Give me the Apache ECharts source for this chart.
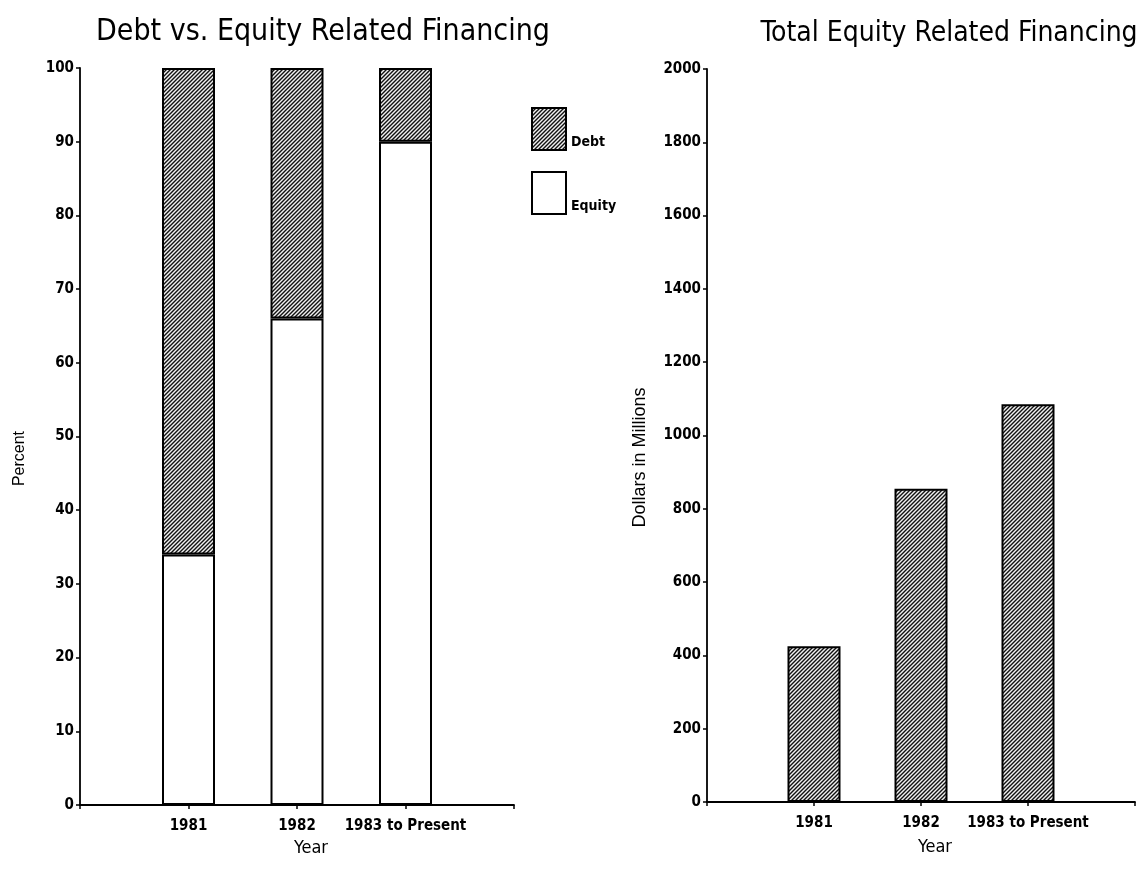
<!DOCTYPE html>
<html>
<head>
<meta charset="utf-8">
<script src="https://cdn.jsdelivr.net/npm/echarts@6/dist/echarts.min.js"></script>
<style>html,body{margin:0;padding:0;background:#fff;}#c{width:1144px;height:886px;}</style>
</head>
<body>
<div id="c"></div>
<script>
// ---- data ----
const years = ['1981', '1982', '1983 to Present'];
const equityPct = [34, 66, 90];
const debtPct = [66, 34, 10];
const totalEquity = [425, 855, 1085];
const pctTicks = [0, 10, 20, 30, 40, 50, 60, 70, 80, 90, 100];
const dollarTicks = [0, 200, 400, 600, 800, 1000, 1200, 1400, 1600, 1800, 2000];

// padded category axis so categories sit at 1..3 of a 0..4 line
const cats = [''].concat(years, ['']);
const pad = arr => [null].concat(arr, [null]);

// hatch pattern
function hatch() {
  const p = 4;
  const cv = document.createElement('canvas');
  cv.width = p; cv.height = p;
  const g = cv.getContext('2d');
  g.fillStyle = '#f0f0f0'; g.fillRect(0, 0, p, p);
  g.strokeStyle = '#111'; g.lineWidth = 1.4;
  g.beginPath();
  g.moveTo(0, p); g.lineTo(p, 0);
  g.moveTo(-1, 1); g.lineTo(1, -1);
  g.moveTo(p - 1, p + 1); g.lineTo(p + 1, p - 1);
  g.stroke();
  return { image: cv, repeat: 'repeat' };
}
const HATCH = hatch();
const FONT = "'DejaVu Sans Condensed', 'DejaVu Sans', sans-serif";
const NAMEFONT = "'Liberation Sans', Arial, sans-serif";

const axisLineStyle = { show: true, lineStyle: { color: '#000', width: 1.8 } };
const tickStyle = { show: true, length: 4, lineStyle: { color: '#000', width: 1.5 } };
const labelStyle = { color: '#000', fontFamily: FONT, fontWeight: 'bold', fontSize: 15 };
const yLabel = v => String(v);

const chart = echarts.init(document.getElementById('c'), null, { renderer: 'canvas' });
chart.setOption({
  backgroundColor: '#fff',
  animation: false,
  title: [
    { text: 'Debt vs. Equity Related Financing', left: 318, top: 12, textAlign: 'center',
      textStyle: { fontFamily: FONT, fontWeight: 'normal', fontSize: 30, color: '#000' } },
    { text: 'Total Equity Related Financing', left: 944, top: 15, textAlign: 'center',
      textStyle: { fontFamily: FONT, fontWeight: 'normal', fontSize: 28, color: '#000' } }
  ],
  legend: {
    data: ['Debt', 'Equity'],
    orient: 'vertical',
    left: 526, top: 98,
    itemWidth: 34, itemHeight: 42, itemGap: 12,
    icon: 'rect',
    selectedMode: false,
    formatter: name => '\n' + name,
    itemStyle: { borderColor: '#000', borderWidth: 2 },
    textStyle: { fontFamily: FONT, fontWeight: 'bold', fontSize: 14, color: '#000', lineHeight: 26 }
  },
  grid: [
    { left: 80, right: 630, top: 68, bottom: 81 },
    { left: 707, right: 9, top: 69, bottom: 84 }
  ],
  xAxis: [
    { type: 'category', gridIndex: 0, data: cats, boundaryGap: false,
      name: 'Year', nameLocation: 'middle', nameGap: 32,
      nameTextStyle: { fontFamily: FONT, fontSize: 18, color: '#000', padding: [0, 0, 0, 28] },
      axisLine: axisLineStyle, axisTick: tickStyle, axisLabel: Object.assign({ margin: 14, interval: 0 }, labelStyle),
      splitLine: { show: false } },
    { type: 'category', gridIndex: 1, data: cats, boundaryGap: false,
      name: 'Year', nameLocation: 'middle', nameGap: 36,
      nameTextStyle: { fontFamily: FONT, fontSize: 18, color: '#000', padding: [0, 0, 0, 28] },
      axisLine: axisLineStyle, axisTick: tickStyle, axisLabel: Object.assign({ margin: 14, interval: 0 }, labelStyle),
      splitLine: { show: false } }
  ],
  yAxis: [
    { type: 'value', gridIndex: 0, min: pctTicks[0], max: pctTicks[pctTicks.length - 1], interval: pctTicks[1] - pctTicks[0],
      name: 'Percent', nameLocation: 'middle', nameGap: 52,
      nameTextStyle: { fontFamily: NAMEFONT, fontSize: 16, color: '#000', padding: [0, 44, 0, 0] },
      axisLine: axisLineStyle, axisTick: tickStyle, axisLabel: Object.assign({ margin: 6, formatter: yLabel }, labelStyle),
      splitLine: { show: false } },
    { type: 'value', gridIndex: 1, min: dollarTicks[0], max: dollarTicks[dollarTicks.length - 1], interval: dollarTicks[1] - dollarTicks[0],
      name: 'Dollars in Millions', nameLocation: 'middle', nameGap: 58,
      nameTextStyle: { fontFamily: NAMEFONT, fontSize: 18, color: '#000', padding: [0, 44, 0, 0] },
      axisLine: axisLineStyle, axisTick: tickStyle, axisLabel: Object.assign({ margin: 6, formatter: yLabel }, labelStyle),
      splitLine: { show: false } }
  ],
  series: [
    { name: 'Equity', type: 'bar', xAxisIndex: 0, yAxisIndex: 0, stack: 'pct', barWidth: 53,
      data: pad(equityPct),
      itemStyle: { color: '#fff', borderColor: '#000', borderWidth: 2 } },
    { name: 'Debt', type: 'bar', xAxisIndex: 0, yAxisIndex: 0, stack: 'pct', barWidth: 53,
      data: pad(debtPct),
      itemStyle: { color: HATCH, borderColor: '#000', borderWidth: 2 } },
    { name: 'Total', type: 'bar', xAxisIndex: 1, yAxisIndex: 1, barWidth: 53,
      data: pad(totalEquity),
      itemStyle: { color: HATCH, borderColor: '#000', borderWidth: 2 } }
  ]
});
</script>
</body>
</html>
